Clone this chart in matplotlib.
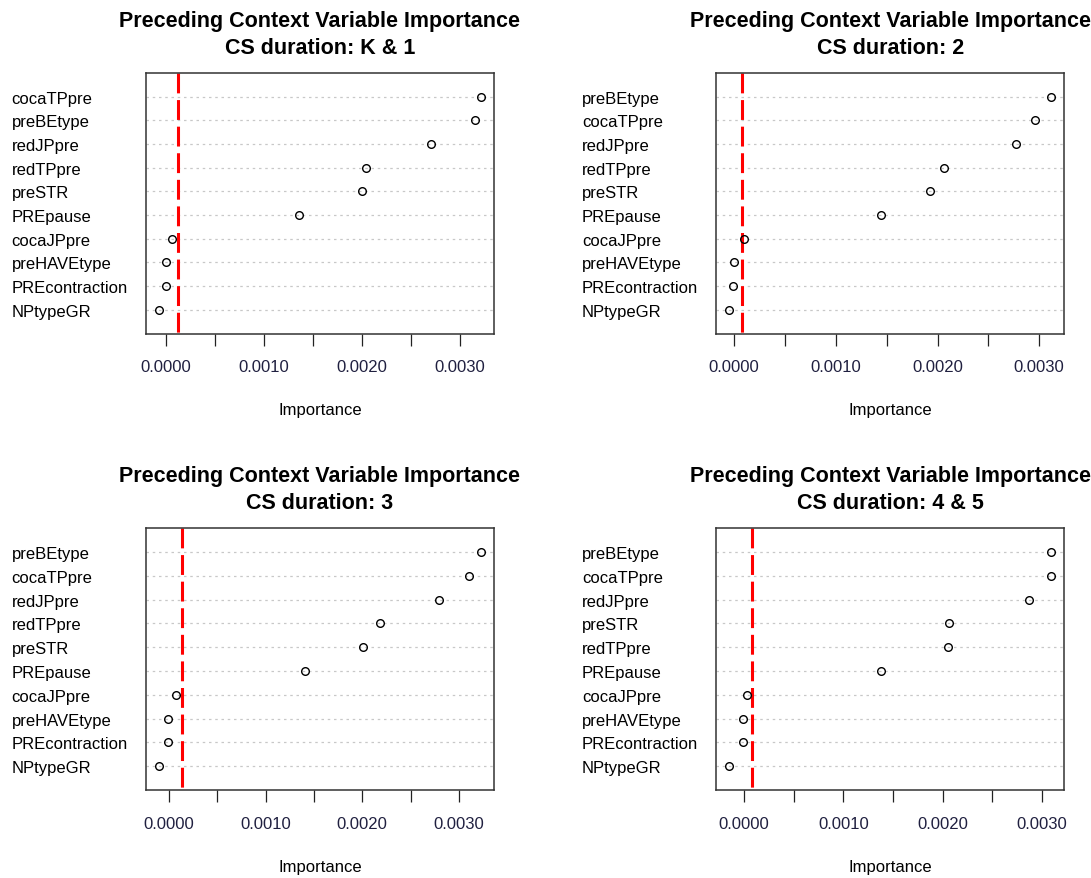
import numpy as np
import matplotlib.pyplot as plt

plt.rcParams['font.family'] = ['Liberation Sans', 'DejaVu Sans']

# variable importance per CS duration group (rows listed top to bottom)
labels_k1 = ["cocaTPpre", "preBEtype", "redJPpre", "redTPpre", "preSTR",
             "PREpause", "cocaJPpre", "preHAVEtype", "PREcontraction", "NPtypeGR"]
imp_k1 = [0.003215, 0.003152, 0.002705, 0.002036, 0.001998,
          0.001354, 0.000058, -0.000006, -0.000006, -0.000078]
cut_k1 = 0.000117

labels_2 = ["preBEtype", "cocaTPpre", "redJPpre", "redTPpre", "preSTR",
            "PREpause", "cocaJPpre", "preHAVEtype", "PREcontraction", "NPtypeGR"]
imp_2 = [0.003120, 0.002956, 0.002770, 0.002064, 0.001930,
         0.001442, 0.000093, -0.000003, -0.000013, -0.000052]
cut_2 = 0.000079

labels_3 = ["preBEtype", "cocaTPpre", "redJPpre", "redTPpre", "preSTR",
            "PREpause", "cocaJPpre", "preHAVEtype", "PREcontraction", "NPtypeGR"]
imp_3 = [0.003228, 0.003099, 0.002794, 0.002186, 0.002006,
         0.001413, 0.000079, -0.000004, -0.000004, -0.000105]
cut_3 = 0.000133

labels_45 = ["preBEtype", "cocaTPpre", "redJPpre", "preSTR", "redTPpre",
             "PREpause", "cocaJPpre", "preHAVEtype", "PREcontraction", "NPtypeGR"]
imp_45 = [0.003095, 0.003092, 0.002869, 0.002065, 0.002051,
          0.001376, 0.000035, -0.000007, -0.000008, -0.000151]
cut_45 = 0.000077

groups = ["K & 1", "2", "3", "4 & 5"]
all_labels = [labels_k1, labels_2, labels_3, labels_45]
all_imp = [imp_k1, imp_2, imp_3, imp_45]
all_cut = [cut_k1, cut_2, cut_3, cut_45]

W, H = 1091, 879
fig = plt.figure(figsize=(W / 100, H / 100), dpi=100)

# panel boxes in pixels: left, top, width, height
boxes = [(145.7, 74, 348.3, 260.5), (716, 74, 348.3, 260.5),
         (145.7, 529.3, 348.3, 261.7), (716, 529.3, 348.3, 261.7)]

for (l, t, w, h), labs, vals, cut, grp in zip(boxes, all_labels, all_imp, all_cut, groups):
    ax = fig.add_axes([l / W, 1 - (t + h) / H, w / W, h / H])
    n = len(vals)
    y = np.arange(n, 0, -1)

    # dotchart style: dotted guide per row, open circles, dashed cutoff
    for yy in y:
        ax.axhline(yy, color='#c8c8c8', lw=0.9, ls=(0, (2.0, 3.0)), zorder=1)
    ax.plot(vals, y, 'o', mfc='none', mec='black', ms=5.5, mew=1.0, zorder=3)
    ax.plot([cut, cut], [n + 1, 0], color='red', lw=2.2,
            ls=(0, (6.5, 2.2)), zorder=2)

    lo, hi = min(vals), max(vals)
    span = hi - lo
    ax.set_xlim(lo - 0.04 * span, hi + 0.04 * span)
    ax.set_ylim(0, n + 1)

    ax.set_yticks(y, labs)
    ax.tick_params(axis='y', length=0, pad=96.5, labelsize=12)
    for lbl in ax.get_yticklabels():
        lbl.set_horizontalalignment('left')

    xt = np.arange(0, 0.00301, 0.0005)
    ax.set_xticks(xt, ["%.4f" % v if i % 2 == 0 else "" for i, v in enumerate(xt)])
    ax.tick_params(axis='x', length=8.6, width=0.9, color='#222222', pad=10,
                   labelsize=12, labelcolor='#202040')

    for sp in ax.spines.values():
        sp.set_color('#333333')
        sp.set_linewidth(1.1)

    ax.set_xlabel("Importance", fontsize=12, labelpad=20)
    ax.set_title("Preceding Context Variable Importance\nCS duration: " + grp,
                 fontsize=15.5, fontweight='bold', pad=14.5, linespacing=1.36)

fig.savefig("out.png", dpi=100)
